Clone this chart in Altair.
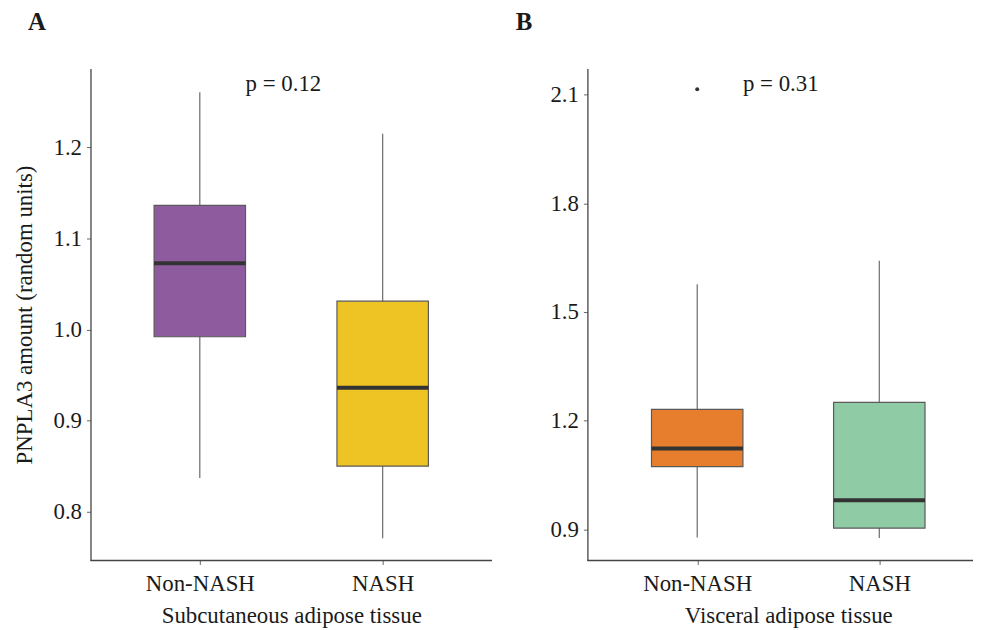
import altair as alt
import pandas as pd

FONT = "Liberation Serif"
FS = 23

groups = ["Non-NASH", "NASH"]

# Panel A: subcutaneous adipose tissue (box-plot statistics)
a_low = [0.837, 0.771]
a_q1 = [0.992, 0.850]
a_med = [1.0725, 0.936]
a_q3 = [1.136, 1.031]
a_high = [1.260, 1.2145]
a_colors = ["#8E5B9F", "#EEC425"]
a_ticks = [0.8, 0.9, 1.0, 1.1, 1.2]
a_p = "p = 0.12"
a_p_y = 1.261

# Panel B: visceral adipose tissue
b_low = [0.877, 0.8755]
b_q1 = [1.073, 0.903]
b_med = [1.1226, 0.980]
b_q3 = [1.231, 1.250]
b_high = [1.576, 1.641]
b_colors = ["#E67E2D", "#8FCBA4"]
b_out_group = ["Non-NASH"]
b_out_val = [2.1145]
b_ticks = [0.9, 1.2, 1.5, 1.8, 2.1]
b_p = "p = 0.31"
b_p_y = 2.109


def panel(letter, letter_dx, xtitle, ytitle, low, q1, med, q3, high, colors,
          ticks, domain, p_text, p_y, width, height, xrange,
          out_g=None, out_v=None):
    df = pd.DataFrame({"group": groups, "low": low, "q1": q1, "med": med,
                       "q3": q3, "high": high, "color": colors})
    x = alt.X("group:N", sort=groups,
              scale=alt.Scale(type="point", range=xrange, padding=0),
              axis=alt.Axis(labelAngle=0, title=xtitle, domain=False))
    yaxis = alt.Axis(values=ticks, format=".1f", grid=False,
                     title=ytitle if ytitle else None)
    yscale = alt.Scale(domain=domain, nice=False, zero=False)
    base = alt.Chart(df)
    whisk = base.mark_rule(color="#6a6a6a", strokeWidth=1.2).encode(
        x=x, y=alt.Y("low:Q", scale=yscale, axis=yaxis), y2="high:Q")
    box = base.mark_bar(size=92, stroke="#5a5a5a", strokeWidth=1.2, opacity=1).encode(
        x=x, y=alt.Y("q1:Q", scale=yscale, axis=yaxis), y2="q3:Q",
        color=alt.Color("color:N", scale=None))
    medl = base.mark_tick(size=92, thickness=4, color="#333333", opacity=1).encode(
        x=x, y=alt.Y("med:Q", scale=yscale, axis=yaxis))
    tdf = pd.DataFrame({"group": [groups[0]], "v": [p_y], "label": [p_text]})
    txt = alt.Chart(tdf).mark_text(align="left", baseline="alphabetic", dx=46,
                                   font=FONT, fontSize=FS, color="#1a1a1a").encode(
        x=x, y=alt.Y("v:Q", scale=yscale, axis=yaxis), text="label:N")
    axis_line = alt.Chart(pd.DataFrame({"k": [0]})).mark_rule(
        color="#444444", strokeWidth=1.3).encode(
        x=alt.value(0), x2=alt.value(width), y=alt.value(height))
    layers = [whisk, box, medl, txt, axis_line]
    if out_g:
        odf = pd.DataFrame({"group": out_g, "v": out_v})
        pts = alt.Chart(odf).mark_circle(size=16, color="#333333", opacity=1).encode(
            x=x, y=alt.Y("v:Q", scale=yscale, axis=yaxis))
        layers.append(pts)
    return alt.layer(*layers).properties(
        width=width, height=height,
        title=alt.TitleParams(letter, anchor="start", frame="group", dx=letter_dx,
                              fontSize=25, font=FONT, fontWeight="bold",
                              color="#1a1a1a", offset=34))


pa = panel("A", -63, "Subcutaneous adipose tissue", "PNPLA3 amount (random units)",
           a_low, a_q1, a_med, a_q3, a_high, a_colors, a_ticks, [0.7466, 1.2861],
           a_p, a_p_y, 404, 495, [110, 294])
pb = panel("B", -72, "Visceral adipose tissue", None,
           b_low, b_q1, b_med, b_q3, b_high, b_colors, b_ticks, [0.8136, 2.1718],
           b_p, b_p_y, 388, 495, [110.5, 293.7], b_out_group, b_out_val)

chart = alt.hconcat(pa, pb, spacing=96, bounds="flush").properties(
    padding={"left": 5, "top": 0, "right": 0, "bottom": 0}
).configure_view(stroke=None).configure_axis(
    labelFont=FONT, titleFont=FONT, labelFontSize=FS, titleFontSize=FS,
    labelColor="#1a1a1a", titleColor="#1a1a1a", titleFontWeight="normal",
    domainColor="#444444", domainWidth=1.3, tickColor="#666666", tickSize=4,
    labelPadding=5,
).configure_axisY(titlePadding=17).configure_axisX(titlePadding=9, labelPadding=8)

chart.save("out.html", embed_options={"renderer": "svg", "actions": False})
